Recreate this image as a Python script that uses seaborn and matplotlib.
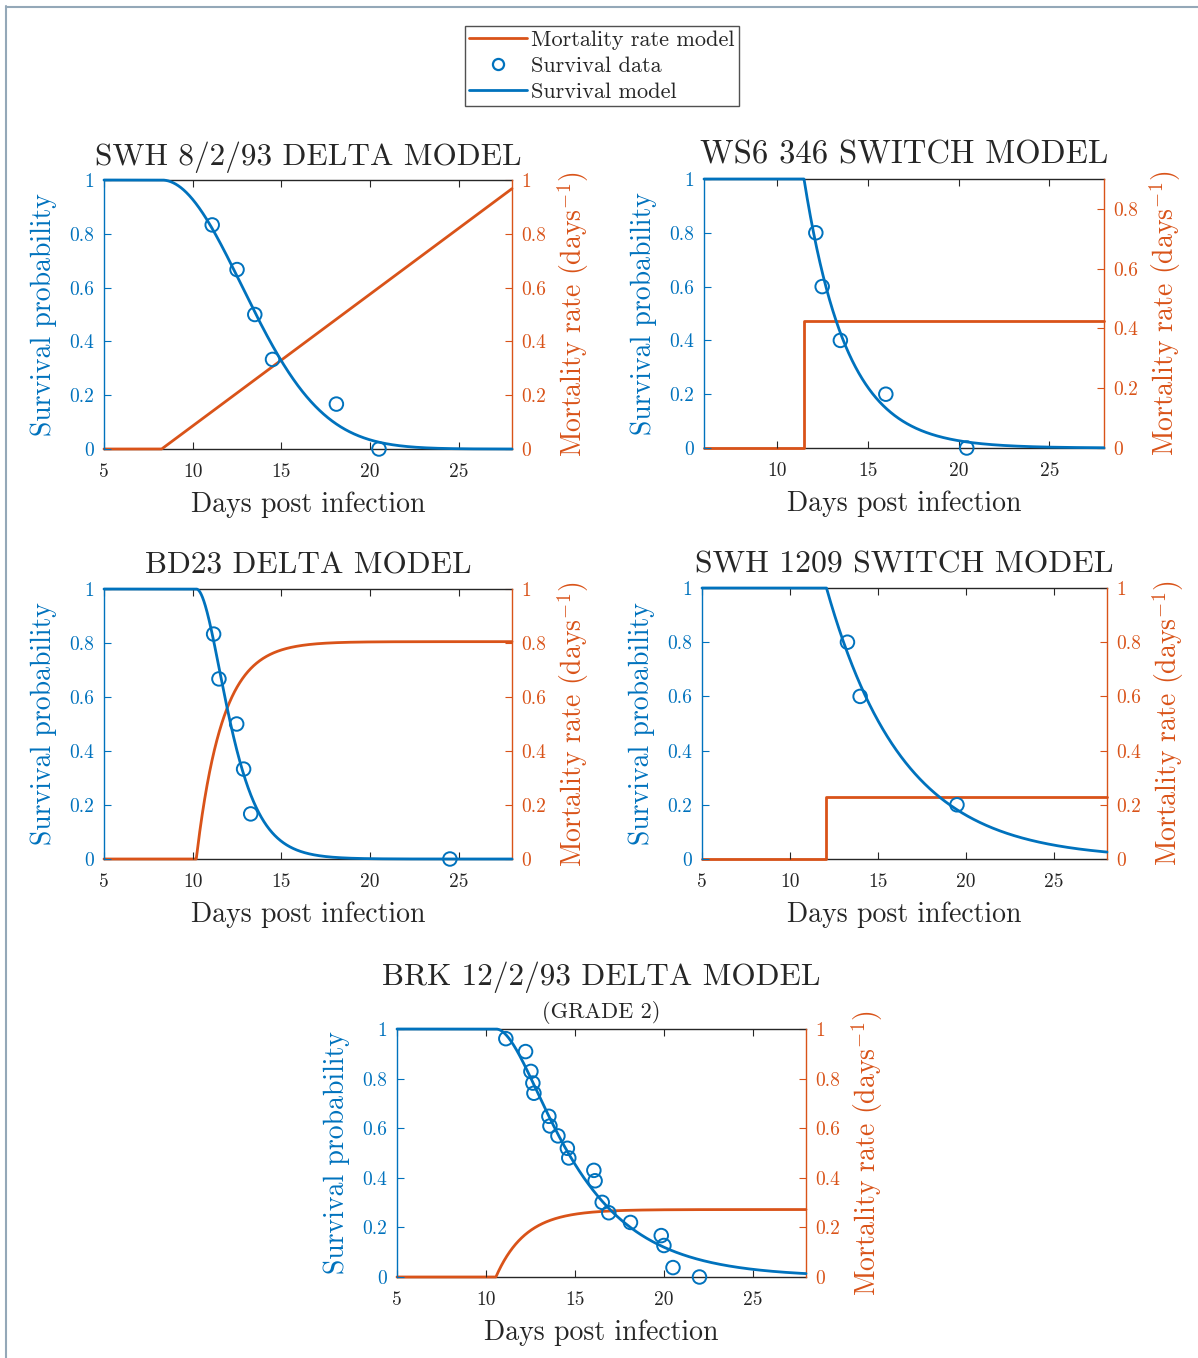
import numpy as np
import pandas as pd
import matplotlib
matplotlib.use("Agg")
import matplotlib.pyplot as plt
import seaborn as sns
from matplotlib.lines import Line2D
from matplotlib.ticker import FuncFormatter, FixedLocator

sns.set_theme(style="white")
plt.rcParams["font.family"] = ["cmr10", "DejaVu Serif"]
plt.rcParams["mathtext.fontset"] = "cm"
plt.rcParams["axes.formatter.use_mathtext"] = True
plt.rcParams["axes.unicode_minus"] = False

BLUE = "#0072BD"
ORANGE = "#D95319"
DARK = "#262626"
BORDER = "#94A8B8"

# ---------------- data ----------------
titles = ["SWH 8/2/93 DELTA MODEL", "WS6 346 SWITCH MODEL", "BD23 DELTA MODEL",
          "SWH 1209 SWITCH MODEL", "BRK 12/2/93 DELTA MODEL"]
subtitle5 = "(GRADE 2)"

p1_day = [11.1, 12.5, 13.5, 14.5, 18.1, 20.5]
p1_surv = [0.833, 0.667, 0.5, 0.333, 0.167, 0.0]
p2_day = [12.15, 12.5, 13.5, 16.0, 20.45]
p2_surv = [0.8, 0.6, 0.4, 0.2, 0.0]
p3_day = [11.18, 11.48, 12.48, 12.87, 13.27, 24.5]
p3_surv = [0.833, 0.667, 0.5, 0.333, 0.167, 0.0]
p4_day = [13.26, 13.98, 19.48]
p4_surv = [0.8, 0.6, 0.2]
p5_day = [11.12, 12.23, 12.53, 12.64, 12.7, 13.54, 13.6, 14.05, 14.58, 14.66,
          16.07, 16.14, 16.54, 16.91, 18.13, 19.86, 20.01, 20.52, 22.01]
p5_surv = [0.961, 0.909, 0.829, 0.782, 0.741, 0.648, 0.609, 0.569, 0.519, 0.48,
           0.43, 0.388, 0.301, 0.259, 0.22, 0.167, 0.127, 0.038, 0.0]

# model parameters
p1_onset, p1_slope = 8.25, 0.049            # linear delta model
p2_onset, p2_level = 11.5, 0.424            # switch model
p3_onset, p3_max, p3_k = 10.2, 0.805, 0.68  # saturating delta model
p4_onset, p4_level = 12.07, 0.23            # switch model
p5_onset, p5_max, p5_k = 10.56, 0.272, 0.6  # saturating delta model

xlims = [(5, 28), (6, 28), (5, 28), (5, 28), (5, 28)]
xticks = [[5, 10, 15, 20, 25], [10, 15, 20, 25], [5, 10, 15, 20, 25],
          [5, 10, 15, 20, 25], [5, 10, 15, 20, 25]]
right_ylims = [(0, 1), (0, 0.9), (0, 1), (0, 1), (0, 1)]
right_ticks = [[0, 0.2, 0.4, 0.6, 0.8, 1], [0, 0.2, 0.4, 0.6, 0.8],
               [0, 0.2, 0.4, 0.6, 0.8, 1], [0, 0.2, 0.4, 0.6, 0.8, 1],
               [0, 0.2, 0.4, 0.6, 0.8, 1]]
left_ticks = [0, 0.2, 0.4, 0.6, 0.8, 1]


def linear_model(t, t0, a):
    tau = np.clip(t - t0, 0, None)
    return a * tau, np.exp(-a * tau ** 2 / 2)


def sat_model(t, t0, m, k):
    tau = np.clip(t - t0, 0, None)
    mu = m * (1 - np.exp(-k * tau))
    S = np.exp(-m * (tau - (1 - np.exp(-k * tau)) / k))
    return mu, S


def switch_model(t, t0, lev):
    tau = np.clip(t - t0, 0, None)
    return np.exp(-lev * tau)


W, H = 1198, 1358
fig = plt.figure(figsize=(W / 100, H / 100), dpi=100)
fig.patch.set_facecolor("white")

boxes = [(104, 512, 180, 449), (704, 1104, 179, 448), (104, 512, 589, 859),
         (702, 1107, 588, 859), (397, 806, 1029, 1277)]

fmt = FuncFormatter(lambda v, p: ("%g" % round(v, 3)))

TICK_FS = 14
LABEL_FS = 20
TITLE_FS = [22.5, 23.5, 22.5, 22.8, 22.5]

for i, (l, r, t, b) in enumerate(boxes):
    ax = fig.add_axes([l / W, 1 - b / H, (r - l) / W, (b - t) / H])
    ax2 = ax.twinx()
    x0, x1 = xlims[i]
    grid = np.linspace(x0, x1, 3000)

    if i == 0:
        mu, S = linear_model(grid, p1_onset, p1_slope)
        day, surv = p1_day, p1_surv
    elif i == 2:
        mu, S = sat_model(grid, p3_onset, p3_max, p3_k)
        day, surv = p3_day, p3_surv
    elif i == 4:
        mu, S = sat_model(grid, p5_onset, p5_max, p5_k)
        day, surv = p5_day, p5_surv
    elif i == 1:
        S = switch_model(grid, p2_onset, p2_level)
        day, surv = p2_day, p2_surv
    else:
        S = switch_model(grid, p4_onset, p4_level)
        day, surv = p4_day, p4_surv

    # mortality rate (right axis)
    if i in (1, 3):
        onset, lev = (p2_onset, p2_level) if i == 1 else (p4_onset, p4_level)
        mdf = pd.DataFrame({"t": [x0, onset, x1], "mu": [0, lev, lev]})
        sns.lineplot(data=mdf, x="t", y="mu", ax=ax2, color=ORANGE, lw=2,
                     drawstyle="steps-post", sort=False, estimator=None,
                     clip_on=False, zorder=3)
    else:
        mdf = pd.DataFrame({"t": grid, "mu": mu})
        sns.lineplot(data=mdf, x="t", y="mu", ax=ax2, color=ORANGE, lw=2,
                     sort=False, estimator=None, clip_on=False, zorder=3)

    # survival model + data (left axis)
    sdf = pd.DataFrame({"t": grid, "S": S})
    sns.lineplot(data=sdf, x="t", y="S", ax=ax, color=BLUE, lw=2,
                 sort=False, estimator=None, clip_on=False, zorder=3)
    ddf = pd.DataFrame({"day": day, "surv": surv})
    sns.scatterplot(data=ddf, x="day", y="surv", ax=ax, marker="o", s=95,
                    facecolor="none", edgecolor=BLUE, linewidth=1.4,
                    clip_on=False, zorder=5)

    ax.set_zorder(ax2.get_zorder() + 1)
    ax.patch.set_visible(False)

    ax.set_xlim(x0, x1)
    ax.set_ylim(0, 1)
    ax2.set_ylim(*right_ylims[i])
    ax.xaxis.set_major_locator(FixedLocator(xticks[i]))
    ax.yaxis.set_major_locator(FixedLocator(left_ticks))
    ax2.yaxis.set_major_locator(FixedLocator(right_ticks[i]))
    ax.xaxis.set_major_formatter(fmt)
    ax.yaxis.set_major_formatter(fmt)
    ax2.yaxis.set_major_formatter(fmt)

    # box: top/bottom spines on the lower (right-axis) layer so curves sit on top
    for sp in ["top", "bottom", "right"]:
        ax.spines[sp].set_visible(False)
    ax.spines["left"].set_color(BLUE)
    ax.spines["left"].set_linewidth(1.0)
    ax2.spines["left"].set_visible(False)
    for sp in ["top", "bottom"]:
        ax2.spines[sp].set_visible(True)
        ax2.spines[sp].set_color(DARK)
        ax2.spines[sp].set_linewidth(1.0)
        ax2.spines[sp].set_zorder(1)
    ax2.spines["right"].set_color(ORANGE)
    ax2.spines["right"].set_linewidth(1.0)

    ax.tick_params(axis="x", direction="in", top=True, bottom=True, length=5,
                   width=0.8, color=DARK, labelcolor=DARK, labelsize=TICK_FS,
                   pad=10)
    ax.tick_params(axis="y", direction="in", left=True, right=False, length=5,
                   width=0.8, color=BLUE, labelcolor=BLUE, labelsize=TICK_FS,
                   pad=7)
    ax2.tick_params(axis="y", direction="in", right=True, left=False, length=5,
                    width=0.8, color=ORANGE, labelcolor=ORANGE,
                    labelsize=TICK_FS, pad=7)
    ax.grid(False)
    ax2.grid(False)

    ax.set_xlabel("Days post infection", fontsize=LABEL_FS, color=DARK,
                  labelpad=8)
    ax.set_ylabel("Survival probability", fontsize=LABEL_FS, color=BLUE,
                  labelpad=9)
    ax2.set_ylabel("Mortality rate (days$^{-1}$)", fontsize=LABEL_FS,
                   color=ORANGE, labelpad=6)

    if i == 4:
        ax.set_title(subtitle5, fontsize=16, color=DARK, pad=8)
        ax.text(0.5, 1 + 44 / 248, titles[i], transform=ax.transAxes,
                ha="center", va="baseline", fontsize=TITLE_FS[i], color=DARK)
    else:
        ax.set_title(titles[i], fontsize=TITLE_FS[i], color=DARK, pad=11)

# figure legend
handles = [Line2D([], [], color=ORANGE, lw=2),
           Line2D([], [], color=BLUE, lw=0, marker="o", markersize=8,
                  markerfacecolor="none", markeredgewidth=1.6),
           Line2D([], [], color=BLUE, lw=2)]
labels = ["Mortality rate model", "Survival data", "Survival model"]
leg = fig.legend(handles, labels, loc="upper center",
                 bbox_to_anchor=(602 / W, 1 - 26 / H), fontsize=16,
                 frameon=True, fancybox=False, edgecolor=DARK,
                 handlelength=2.6, handletextpad=0.2, labelspacing=0.28,
                 borderpad=0.2, borderaxespad=0)
leg.get_frame().set_linewidth(1.0)
for txt in leg.get_texts():
    txt.set_color(DARK)

# outer frame (left and top edges)
fig.add_artist(Line2D([5.8 / W, 5.8 / W], [0, 1 - 5.5 / H],
                      transform=fig.transFigure, color=BORDER, lw=1.5))
fig.add_artist(Line2D([5.8 / W, 1], [1 - 6.5 / H, 1 - 6.5 / H],
                      transform=fig.transFigure, color=BORDER, lw=1.5))

fig.savefig("out.png", dpi=100, facecolor="white")
